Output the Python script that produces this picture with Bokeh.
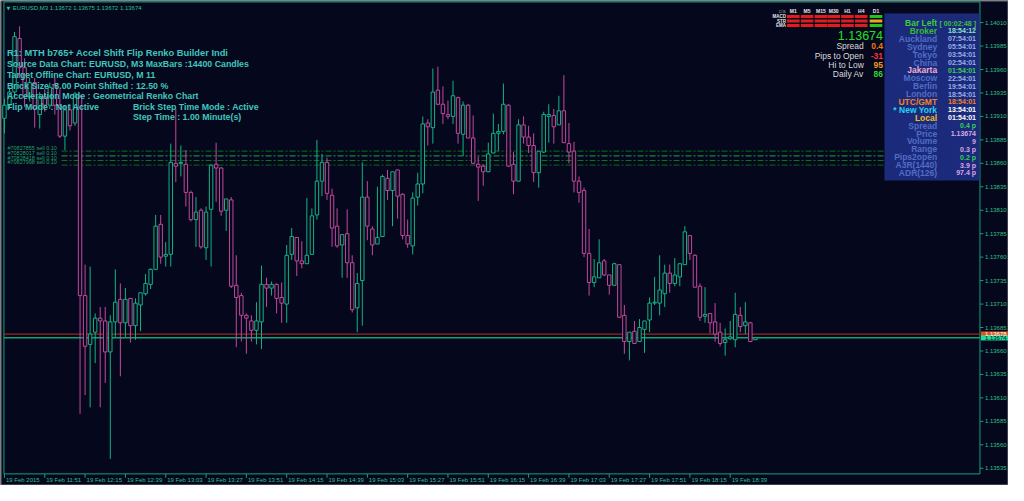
from bokeh.plotting import figure
from bokeh.models import Range1d, ColumnDataSource
from bokeh.core.properties import value
from bokeh.embed import file_html
from bokeh.resources import INLINE

# ---------------- data (EURUSD M3 candles) ----------------
OPEN = [1.13908, 1.13922, 1.13936, 1.13993, 1.13962, 1.13931, 1.13946, 1.13912, 1.13931, 1.13922,
        1.13943, 1.13922, 1.13889, 1.13917, 1.13903, 1.13931, 1.13719, 1.13667, 1.13680, 1.13695,
        1.13692, 1.13659, 1.13691, 1.13715, 1.13690, 1.13716, 1.13687, 1.13709, 1.13721, 1.13731,
        1.13747, 1.13795, 1.13761, 1.13763, 1.13860, 1.13860, 1.13859, 1.13829, 1.13800, 1.13810,
        1.13770, 1.13811, 1.13859, 1.13855, 1.13810, 1.13821, 1.13730, 1.13719, 1.13698, 1.13692,
        1.13682, 1.13691, 1.13731, 1.13727, 1.13731, 1.13717, 1.13710, 1.13763, 1.13781, 1.13756,
        1.13753, 1.13763, 1.13805, 1.13841, 1.13861, 1.13826, 1.13793, 1.13773, 1.13785, 1.13754,
        1.13706, 1.13735, 1.13824, 1.13790, 1.13774, 1.13782, 1.13844, 1.13831, 1.13853, 1.13827,
        1.13783, 1.13772, 1.13824, 1.13838, 1.13903, 1.13898, 1.13938, 1.13923, 1.13912, 1.13910,
        1.13930, 1.13891, 1.13922, 1.13887, 1.13859, 1.13857, 1.13851, 1.13871, 1.13892, 1.13894,
        1.13922, 1.13859, 1.13841, 1.13901, 1.13888, 1.13879, 1.13850, 1.13872, 1.13910, 1.13911,
        1.13901, 1.13916, 1.13881, 1.13873, 1.13841, 1.13831, 1.13764, 1.13733, 1.13738, 1.13756,
        1.13741, 1.13730, 1.13752, 1.13698, 1.13670, 1.13681, 1.13670, 1.13683, 1.13693, 1.13711,
        1.13711, 1.13721, 1.13743, 1.13732, 1.13739, 1.13752, 1.13783, 1.13762, 1.13729, 1.13697,
        1.13700, 1.13691, 1.13680, 1.13669, 1.13673, 1.13672, 1.13698, 1.13687, 1.13690, 1.13672]
HIGH = [1.13929, 1.13941, 1.14000, 1.14006, 1.13972, 1.13951, 1.13951, 1.13936, 1.13939, 1.13946,
        1.13951, 1.13939, 1.13922, 1.13923, 1.13936, 1.13933, 1.13752, 1.13750, 1.13700, 1.13707,
        1.13707, 1.13698, 1.13747, 1.13732, 1.13727, 1.13716, 1.13716, 1.13722, 1.13742, 1.13748,
        1.13805, 1.13805, 1.13776, 1.13881, 1.13918, 1.13879, 1.13874, 1.13831, 1.13824, 1.13812,
        1.13814, 1.13859, 1.13882, 1.13856, 1.13822, 1.13824, 1.13762, 1.13722, 1.13700, 1.13698,
        1.13712, 1.13751, 1.13738, 1.13734, 1.13732, 1.13733, 1.13773, 1.13791, 1.13781, 1.13777,
        1.13823, 1.13812, 1.13885, 1.13870, 1.13866, 1.13833, 1.13812, 1.13784, 1.13811, 1.13762,
        1.13743, 1.13861, 1.13841, 1.13793, 1.13835, 1.13848, 1.13853, 1.13851, 1.13853, 1.13828,
        1.13800, 1.13829, 1.13850, 1.13910, 1.13907, 1.13961, 1.13963, 1.13942, 1.13927, 1.13948,
        1.13931, 1.13926, 1.13923, 1.13911, 1.13867, 1.13859, 1.13882, 1.13913, 1.13902, 1.13945,
        1.13923, 1.13872, 1.13907, 1.13910, 1.13900, 1.13892, 1.13873, 1.13915, 1.13923, 1.13918,
        1.13932, 1.13954, 1.13903, 1.13883, 1.13846, 1.13834, 1.13790, 1.13758, 1.13779, 1.13758,
        1.13741, 1.13754, 1.13752, 1.13709, 1.13680, 1.13692, 1.13694, 1.13692, 1.13717, 1.13739,
        1.13762, 1.13752, 1.13752, 1.13759, 1.13753, 1.13793, 1.13783, 1.13763, 1.13732, 1.13728,
        1.13700, 1.13711, 1.13690, 1.13684, 1.13692, 1.13722, 1.13707, 1.13712, 1.13691, 1.13675]
LOW = [1.13892, 1.13918, 1.13931, 1.13951, 1.13920, 1.13926, 1.13898, 1.13897, 1.13915, 1.13918,
       1.13912, 1.13887, 1.13874, 1.13895, 1.13900, 1.13593, 1.13613, 1.13600, 1.13647, 1.13600,
       1.13626, 1.13545, 1.13675, 1.13633, 1.13675, 1.13669, 1.13672, 1.13681, 1.13719, 1.13726,
       1.13747, 1.13753, 1.13750, 1.13750, 1.13840, 1.13846, 1.13814, 1.13798, 1.13771, 1.13769,
       1.13757, 1.13750, 1.13819, 1.13804, 1.13788, 1.13727, 1.13664, 1.13670, 1.13657, 1.13670,
       1.13667, 1.13662, 1.13707, 1.13719, 1.13700, 1.13690, 1.13690, 1.13757, 1.13740, 1.13748,
       1.13753, 1.13763, 1.13800, 1.13825, 1.13821, 1.13771, 1.13770, 1.13738, 1.13738, 1.13701,
       1.13680, 1.13687, 1.13778, 1.13762, 1.13774, 1.13782, 1.13821, 1.13793, 1.13801, 1.13779,
       1.13770, 1.13763, 1.13815, 1.13828, 1.13879, 1.13881, 1.13922, 1.13902, 1.13907, 1.13902,
       1.13881, 1.13868, 1.13887, 1.13860, 1.13820, 1.13836, 1.13851, 1.13871, 1.13873, 1.13891,
       1.13856, 1.13827, 1.13841, 1.13881, 1.13871, 1.13840, 1.13834, 1.13871, 1.13882, 1.13881,
       1.13901, 1.13882, 1.13860, 1.13829, 1.13818, 1.13760, 1.13719, 1.13728, 1.13738, 1.13740,
       1.13720, 1.13730, 1.13695, 1.13657, 1.13650, 1.13668, 1.13670, 1.13658, 1.13680, 1.13709,
       1.13698, 1.13707, 1.13722, 1.13729, 1.13729, 1.13752, 1.13757, 1.13728, 1.13692, 1.13690,
       1.13679, 1.13670, 1.13665, 1.13655, 1.13672, 1.13664, 1.13680, 1.13678, 1.13670, 1.13672]
CLOSE = [1.13922, 1.13936, 1.13995, 1.13962, 1.13931, 1.13946, 1.13918, 1.13931, 1.13922, 1.13941,
         1.13922, 1.13889, 1.13917, 1.13900, 1.13934, 1.13719, 1.13665, 1.13678, 1.13695, 1.13692,
         1.13659, 1.13691, 1.13712, 1.13690, 1.13715, 1.13687, 1.13711, 1.13722, 1.13732, 1.13747,
         1.13793, 1.13760, 1.13763, 1.13861, 1.13857, 1.13861, 1.13829, 1.13800, 1.13808, 1.13771,
         1.13808, 1.13858, 1.13855, 1.13809, 1.13822, 1.13729, 1.13717, 1.13698, 1.13695, 1.13682,
         1.13692, 1.13731, 1.13727, 1.13731, 1.13716, 1.13711, 1.13762, 1.13782, 1.13756, 1.13753,
         1.13762, 1.13804, 1.13841, 1.13861, 1.13828, 1.13791, 1.13772, 1.13784, 1.13754, 1.13704,
         1.13732, 1.13824, 1.13793, 1.13773, 1.13781, 1.13846, 1.13831, 1.13851, 1.13825, 1.13783,
         1.13774, 1.13823, 1.13838, 1.13902, 1.13899, 1.13936, 1.13923, 1.13913, 1.13910, 1.13932,
         1.13892, 1.13922, 1.13887, 1.13860, 1.13856, 1.13851, 1.13870, 1.13892, 1.13894, 1.13923,
         1.13857, 1.13841, 1.13901, 1.13888, 1.13879, 1.13850, 1.13873, 1.13912, 1.13912, 1.13899,
         1.13916, 1.13882, 1.13872, 1.13841, 1.13829, 1.13764, 1.13733, 1.13739, 1.13754, 1.13741,
         1.13730, 1.13753, 1.13696, 1.13670, 1.13680, 1.13668, 1.13685, 1.13692, 1.13711, 1.13712,
         1.13725, 1.13743, 1.13732, 1.13741, 1.13753, 1.13787, 1.13764, 1.13728, 1.13696, 1.13699,
         1.13690, 1.13678, 1.13668, 1.13672, 1.13675, 1.13699, 1.13686, 1.13691, 1.13670, 1.13674]

TIME_LABELS = ["19 Feb 2015", "19 Feb 11:51", "19 Feb 12:15", "19 Feb 12:39", "19 Feb 13:03",
               "19 Feb 13:27", "19 Feb 13:51", "19 Feb 14:15", "19 Feb 14:39", "19 Feb 15:03",
               "19 Feb 15:27", "19 Feb 15:51", "19 Feb 16:15", "19 Feb 16:39", "19 Feb 17:03",
               "19 Feb 17:27", "19 Feb 17:51", "19 Feb 18:15", "19 Feb 18:39"]
BARS_PER_LABEL = 8
PRICE_TICKS = [1.13535, 1.13560, 1.13585, 1.13610, 1.13635, 1.13660, 1.13685, 1.13710, 1.13735, 1.13760,
               1.13785, 1.13810, 1.13835, 1.13860, 1.13885, 1.13910, 1.13935, 1.13960, 1.13985, 1.14010]

BID = 1.13674
ASK = 1.13678
ORDER_PRICES = [1.13873, 1.13868, 1.13863, 1.13858]
ORDER_LABELS = ["#70827855 sell 0.10", "#70828017 sell 0.10", "#70828418 sell 0.10", "#70827998 sell 0.10"]
ORDER_COLORS = ["#0d5a1a", "#138a2c", "#0f6e22", "#0b5418"]

INFO_LINES = ["R1: MTH b765+ Accel Shift Flip Renko Builder Indi",
              "Source Data Chart: EURUSD, M3   MaxBars :14400 Candles",
              "Target Offline Chart: EURUSD, M 11",
              " Brick Size :8.00 Point Shifted : 12.50 %",
              "Acceleration Mode : Geometrical Renko Chart",
              "Flip Mode : Not Active"]
INFO_RIGHT = ["Brick Step Time Mode : Active", "Step Time : 1.00 Minute(s)"]

MTF_TF = ["M1", "M5", "M15", "M30", "H1", "H4", "D1"]
MTF_IND = ["MACD", "STR", "EMA"]
MTF_STATE = [["dn", "dn", "dn", "dn", "dn", "dn", "up"],
             ["dn", "dn", "dn", "dn", "dn", "dn", "flat"],
             ["dn", "dn", "dn", "dn", "dn", "dn", "up"]]

STAT_NAMES = ["Spread", "Pips to Open", "Hi to Low", "Daily Av"]
STAT_VALUES = ["0.4", "-31", "95", "86"]
STAT_COLORS = ["#f07a12", "#ff3434", "#f09a22", "#34d034"]

TP_LABELS = ["Bar Left", "Broker", "Auckland", "Sydney", "Tokyo", "China", "Jakarta", "Moscow", "Berlin",
             "London", "UTC/GMT", "* New York", "Local", "Spread", "Price", "Volume", "Range", "Pips2open",
             "A3R(1440)", "ADR(126)"]
TP_VALUES = ["[ 00:02:48 ]", "18:54:12", "07:54:01", "05:54:01", "03:54:01", "02:54:01", "01:54:01",
             "22:54:01", "19:54:01", "18:54:01", "18:54:01", "13:54:01", "01:54:01", "0.4 p", "1.13674",
             "9", "0.3 p", "0.2 p", "3.9 p", "97.4 p"]
STEEL = "#4f6ec4"
VBLUE = "#96aeea"
PINKV = "#d8a6e6"
GREENV = "#34d052"
TP_LABEL_COLORS = ["#3ccc3c", "#32bc32", STEEL, STEEL, STEEL, STEEL, "#f2aed2", STEEL, STEEL, STEEL,
                   "#f28222", "#26d2f0", "#f2ba22", STEEL, STEEL, STEEL, STEEL, STEEL, STEEL, STEEL]
TP_VALUE_COLORS = ["#3cc03c", "#86e6c2", VBLUE, VBLUE, VBLUE, VBLUE, GREENV, VBLUE, VBLUE, VBLUE,
                   "#f28222", "#ffffff", "#ffffff", GREENV, PINKV, PINKV, PINKV, GREENV, PINKV, PINKV]

# ---------------- layout ----------------
BG = "#05071d"
TEAL = "#17a07c"
AXIS_TXT = "#2cc08a"
BULL = "#12b484"
BEAR = "#c4489c"
FONT = value("Liberation Sans")

REF_W, REF_H = 1024, 501
W, H = 1008, 485
# chart area (reference pixels) and the bar / price scale it carries
FL, FR, FT, FB = 3.5, 995.0, 1.5, 489.0
BAR_PX = 5.12
X0 = -0.1
X1 = X0 + (FR - FL) / BAR_PX
Y1 = 1.14032
Y0 = 1.13529


def FX(rx):
    return X0 + (rx - FL) * (X1 - X0) / (FR - FL)


def FY(ry):
    return Y1 - (ry - FT) * (Y1 - Y0) / (FB - FT)


def PY(price):
    return FT + (Y1 - price) * (FB - FT) / (Y1 - Y0)


p = figure(width=W, height=H, x_range=Range1d(FX(0), FX(REF_W)), y_range=Range1d(FY(REF_H), FY(0)),
           output_backend="svg", toolbar_location=None, x_axis_location=None, y_axis_location=None,
           min_border=0, background_fill_color=BG, border_fill_color=BG)
p.grid.visible = False
p.outline_line_color = None

# outer window edge and chart area border
p.quad(left=[FX(0.5)], right=[FX(REF_W - 0.5)], top=[FY(0.5)], bottom=[FY(REF_H - 0.5)],
       fill_color=None, line_color="#7c7c7c", line_width=1)
p.quad(left=[X0], right=[X1], top=[Y1], bottom=[Y0], fill_color=None, line_color=TEAL, line_width=1)

# price scale (right)
p.segment(x0=[X1] * len(PRICE_TICKS), x1=[FX(998.5)] * len(PRICE_TICKS), y0=PRICE_TICKS, y1=PRICE_TICKS,
          line_color=TEAL, line_width=1)
p.text(x=[FX(1000)] * len(PRICE_TICKS), y=PRICE_TICKS, text=["%.5f" % t for t in PRICE_TICKS],
       text_color=AXIS_TXT, text_font_size="6px", text_font=FONT, text_align="left", text_baseline="middle")

# time scale (bottom)
tick_bars = [i * BARS_PER_LABEL for i in range(len(TIME_LABELS))]
p.segment(x0=tick_bars, x1=tick_bars, y0=[Y0] * len(tick_bars), y1=[FY(493)] * len(tick_bars),
          line_color=TEAL, line_width=1)
p.text(x=[b + 0.3 for b in tick_bars], y=[FY(495.5)] * len(tick_bars), text=TIME_LABELS,
       text_color=AXIS_TXT, text_font_size="6px", text_font=FONT, text_align="left", text_baseline="middle")

# ---------------- trade / price lines ----------------
for pr, col in zip(ORDER_PRICES, ORDER_COLORS):
    p.segment(x0=[FX(62)], x1=[X1], y0=[pr], y1=[pr], line_color=col, line_width=1.2, line_dash="6 2 2 2")
p.text(x=[FX(7)] * len(ORDER_LABELS), y=ORDER_PRICES, text=ORDER_LABELS, text_color="#22a060",
       text_font_size="5.5px", text_font=FONT, text_baseline="bottom", text_align="left")

p.segment(x0=[X0], x1=[X1], y0=[ASK], y1=[ASK], line_color="#b8341e", line_width=1)
p.segment(x0=[X0], x1=[X1], y0=[BID], y1=[BID], line_color="#13a173", line_width=1.5)

# ---------------- candles ----------------
idx = list(range(len(OPEN)))
for want_bull, col in ((True, BULL), (False, BEAR)):
    sel = [i for i in idx if (CLOSE[i] >= OPEN[i]) == want_bull]
    src = ColumnDataSource(dict(
        x=sel,
        high=[HIGH[i] for i in sel], low=[LOW[i] for i in sel],
        top=[max(OPEN[i], CLOSE[i]) for i in sel], bottom=[min(OPEN[i], CLOSE[i]) for i in sel]))
    p.segment(x0="x", x1="x", y0="low", y1="high", source=src, line_color=col, line_width=1)
    p.vbar(x="x", width=0.68, top="top", bottom="bottom", source=src,
           fill_color=BG, line_color=col, line_width=1)

# ---------------- header ----------------
p.text(x=[FX(6)], y=[FY(7.5)], text=["\u25bc"], text_color=AXIS_TXT, text_font_size="5px",
       text_font=value("DejaVu Sans"), text_baseline="middle")
hdr = "EURUSD,M3  %.5f %.5f %.5f %.5f" % (OPEN[-1], HIGH[-1], LOW[-1], CLOSE[-1])
p.text(x=[FX(12.5)], y=[FY(7.5)], text=[hdr], text_color=AXIS_TXT, text_font_size="6px",
       text_font=FONT, text_baseline="middle")

# ---------------- info block ----------------
INFO_COLOR = "#40c6bc"
info_y = [54.3, 65.7, 76.7, 88.0, 99.0, 109.8]
p.text(x=[FX(6.5)], y=[FY(info_y[0])], text=[INFO_LINES[0]], text_color=INFO_COLOR,
       text_font_size="9.3px", text_font=FONT, text_font_style="bold", text_baseline="middle")
p.text(x=[FX(6.5)] * 5, y=[FY(v) for v in info_y[1:]], text=INFO_LINES[1:], text_color=INFO_COLOR,
       text_font_size="8.8px", text_font=FONT, text_font_style="bold", text_baseline="middle")
p.text(x=[FX(134.5)] * 2, y=[FY(109.8), FY(120.5)], text=INFO_RIGHT, text_color=INFO_COLOR,
       text_font_size="8.8px", text_font=FONT, text_font_style="bold", text_baseline="middle")

# ---------------- MTF panel ----------------
col_left = [799, 813, 827, 840, 854, 868, 883]
col_w = 12.8
row_top = [15.0, 19.6, 24.2]
row_h = 3.2
state_col = {"dn": "#e01c1c", "up": "#22c422", "flat": "#f0a412"}
ql, qr, qt, qb, qc = [], [], [], [], []
for r in range(len(MTF_IND)):
    for c in range(len(MTF_TF)):
        ql.append(FX(col_left[c])); qr.append(FX(col_left[c] + col_w))
        qt.append(FY(row_top[r])); qb.append(FY(row_top[r] + row_h))
        qc.append(state_col[MTF_STATE[r][c]])
p.quad(left=ql, right=qr, top=qt, bottom=qb, fill_color=qc, line_color=None)
p.text(x=[FX(c + col_w / 2) for c in col_left], y=[FY(10.8)] * 7, text=MTF_TF, text_color="#e6e6e6",
       text_font_size="5px", text_font=FONT, text_font_style="bold", text_align="center",
       text_baseline="middle")
p.text(x=[FX(794)], y=[FY(10.8)], text=["c/a"], text_color="#8a8a8a", text_font_size="5px",
       text_font=FONT, text_align="center", text_baseline="middle")
p.text(x=[FX(798)] * 3, y=[FY(t + row_h / 2) for t in row_top], text=MTF_IND, text_color="#e6e6e6",
       text_font_size="4.5px", text_font=FONT, text_font_style="bold", text_align="right",
       text_baseline="middle")

# price + stats
p.text(x=[FX(896.5)], y=[FY(36.5)], text=["%.5f" % CLOSE[-1]], text_color="#22e022",
       text_font_size="12.5px", text_font=FONT, text_align="right", text_baseline="middle")
stat_y = [46.5, 57.0, 66.5, 76.0]
p.text(x=[FX(877)] * 4, y=[FY(v) for v in stat_y], text=STAT_NAMES, text_color="#dadada",
       text_font_size="8.5px", text_font=FONT, text_align="right", text_baseline="middle")
p.text(x=[FX(896.5)] * 4, y=[FY(v) for v in stat_y], text=STAT_VALUES, text_color=STAT_COLORS,
       text_font_size="8.5px", text_font=FONT, text_font_style="bold", text_align="right",
       text_baseline="middle")

# ---------------- time panel ----------------
p.quad(left=[FX(898)], right=[FX(994.5)], top=[FY(13.5)], bottom=[FY(186)], fill_color="#1c2a7c",
       line_color=None)
tp_y = [FY(23.3 + 8.15 * i) for i in range(len(TP_LABELS))]
p.text(x=[FX(951.5)] * len(TP_LABELS), y=tp_y, text=TP_LABELS, text_color=TP_LABEL_COLORS,
       text_font_size="8.5px", text_font=FONT, text_font_style="bold", text_align="right",
       text_baseline="middle")
p.text(x=[FX(991)] * len(TP_VALUES), y=tp_y, text=TP_VALUES, text_color=TP_VALUE_COLORS,
       text_font_size="7px", text_font=FONT, text_font_style="bold", text_align="right",
       text_baseline="middle")

# ---------------- price tags on the price scale ----------------
tag_prices = [ASK, BID]
tag_fill = ["#e8521c", "#22dc9a"]
tag_text = ["#ffffff", "#04121a"]
p.quad(left=[FX(996)] * 2, right=[FX(REF_W)] * 2,
       top=[FY(PY(v) - 2.7) for v in tag_prices], bottom=[FY(PY(v) + 2.7) for v in tag_prices],
       fill_color=tag_fill, line_color=None)
p.text(x=[FX(1000)] * 2, y=tag_prices, text=["%.5f" % v for v in tag_prices], text_color=tag_text,
       text_font_size="6px", text_font=FONT, text_align="left", text_baseline="middle")

open("out.html", "w").write(file_html(p, INLINE))
